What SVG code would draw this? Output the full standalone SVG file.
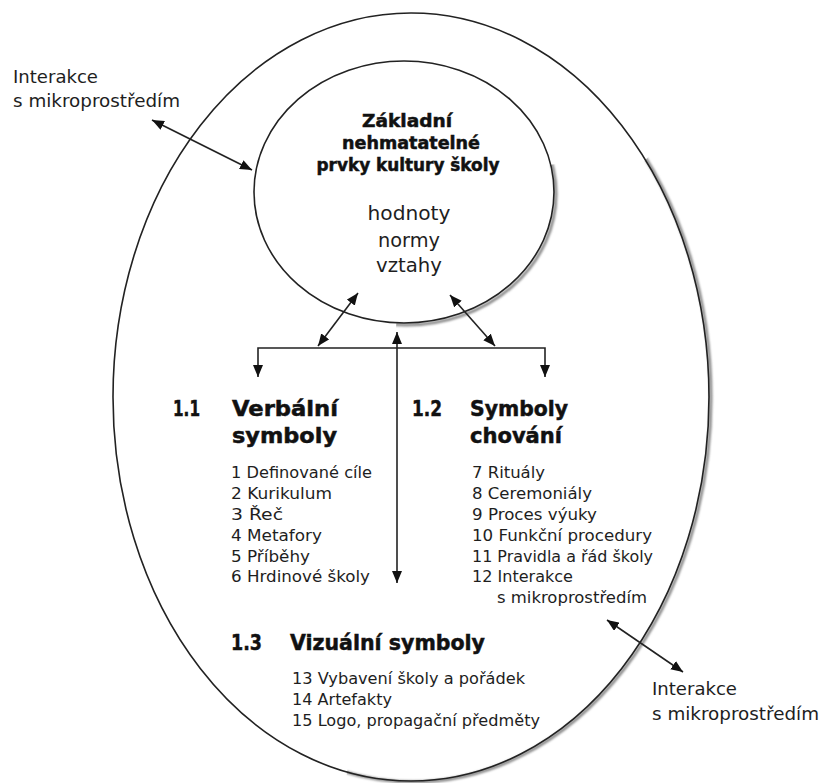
<svg xmlns="http://www.w3.org/2000/svg" width="822" height="783" viewBox="0 0 822 783">
<style>
  .reg { font-family: "DejaVu Sans", "Liberation Sans", sans-serif; fill: #1e1e1e; }
  .side { font-size: 18px; }
  .item { font-size: 15.5px; }
  .val { font-size: 19px; }
  .title { font-family: "DejaVu Sans", "Liberation Sans", sans-serif; font-weight: bold; font-size: 17px; fill: #111; stroke: #111; stroke-width: 0.5; }
  .head { font-family: "DejaVu Sans", "Liberation Sans", sans-serif; font-weight: bold; font-size: 21px; fill: #111; stroke: #111; stroke-width: 0.5; }
  .ell { fill: none; stroke: #222; stroke-width: 1.6; }
  .shadow { fill: none; stroke: #8a8a8a; stroke-width: 3; }
  .conn { fill: none; stroke: #222; stroke-width: 1.6; }
</style>
<defs>
  <marker id="ah" viewBox="0 0 12 10" markerWidth="12" markerHeight="10" refX="12" refY="5" orient="auto-start-reverse" markerUnits="userSpaceOnUse">
    <path d="M0,0 L12,5 L0,10 z" fill="#111"/>
  </marker>
  <filter id="blur" x="-10%" y="-10%" width="120%" height="120%">
    <feGaussianBlur stdDeviation="1"/>
  </filter>
  <clipPath id="clipOuter">
    <polygon points="411,397 1100,-300 1300,397 1300,1400 240,1400"/>
  </clipPath>
  <clipPath id="clipInner">
    <polygon points="404,192 900,100 900,600 380,600"/>
  </clipPath>
</defs>
<rect width="822" height="783" fill="#ffffff"/>

<g id="outer-ellipse">
  <ellipse class="shadow" cx="413" cy="398" rx="298" ry="384" clip-path="url(#clipOuter)" filter="url(#blur)"/>
  <ellipse class="ell" cx="411" cy="397" rx="298" ry="384"/>
</g>

<g id="core-node">
  <ellipse class="shadow" cx="406" cy="194" rx="150" ry="131" clip-path="url(#clipInner)" filter="url(#blur)"/>
  <ellipse class="ell" cx="404" cy="192" rx="150" ry="131" fill="#fff"/>
  <text class="title" x="407" y="127" text-anchor="middle" textLength="90" lengthAdjust="spacingAndGlyphs">Základní</text>
  <text class="title" x="411" y="149" text-anchor="middle" textLength="138" lengthAdjust="spacingAndGlyphs">nehmatatelné</text>
  <text class="title" x="408" y="171" text-anchor="middle" textLength="183" lengthAdjust="spacingAndGlyphs">prvky kultury školy</text>
  <text class="reg val" x="409" y="220" text-anchor="middle" textLength="83" lengthAdjust="spacingAndGlyphs">hodnoty</text>
  <text class="reg val" x="409" y="247" text-anchor="middle" textLength="62" lengthAdjust="spacingAndGlyphs">normy</text>
  <text class="reg val" x="409" y="272" text-anchor="middle" textLength="66" lengthAdjust="spacingAndGlyphs">vztahy</text>
</g>

<g id="verbal-symbols">
  <text class="head" x="173" y="416" textLength="27" lengthAdjust="spacingAndGlyphs">1.1</text>
  <text class="head" x="232" y="416" textLength="106" lengthAdjust="spacingAndGlyphs">Verbální</text>
  <text class="head" x="232" y="443" textLength="105" lengthAdjust="spacingAndGlyphs">symboly</text>
  <text class="reg item" x="231" y="478" textLength="141" lengthAdjust="spacingAndGlyphs">1 Definované cíle</text>
  <text class="reg item" x="231" y="499" textLength="101" lengthAdjust="spacingAndGlyphs">2 Kurikulum</text>
  <text class="reg item" x="231" y="520" textLength="52" lengthAdjust="spacingAndGlyphs">3 Řeč</text>
  <text class="reg item" x="231" y="541" textLength="91" lengthAdjust="spacingAndGlyphs">4 Metafory</text>
  <text class="reg item" x="231" y="562" textLength="79" lengthAdjust="spacingAndGlyphs">5 Příběhy</text>
  <text class="reg item" x="231" y="582" textLength="139" lengthAdjust="spacingAndGlyphs">6 Hrdinové školy</text>
</g>

<g id="behaviour-symbols">
  <text class="head" x="412" y="416" textLength="30" lengthAdjust="spacingAndGlyphs">1.2</text>
  <text class="head" x="470" y="416" textLength="98" lengthAdjust="spacingAndGlyphs">Symboly</text>
  <text class="head" x="470" y="443" textLength="92" lengthAdjust="spacingAndGlyphs">chování</text>
  <text class="reg item" x="472" y="478" textLength="73" lengthAdjust="spacingAndGlyphs">7 Rituály</text>
  <text class="reg item" x="472" y="499" textLength="120" lengthAdjust="spacingAndGlyphs">8 Ceremoniály</text>
  <text class="reg item" x="472" y="520" textLength="125" lengthAdjust="spacingAndGlyphs">9 Proces výuky</text>
  <text class="reg item" x="472" y="541" textLength="180" lengthAdjust="spacingAndGlyphs">10 Funkční procedury</text>
  <text class="reg item" x="472" y="562" textLength="181" lengthAdjust="spacingAndGlyphs">11 Pravidla a řád školy</text>
  <text class="reg item" x="472" y="582" textLength="101" lengthAdjust="spacingAndGlyphs">12 Interakce</text>
  <text class="reg item" x="497" y="603" textLength="150" lengthAdjust="spacingAndGlyphs">s mikroprostředím</text>
</g>

<g id="visual-symbols">
  <text class="head" x="231" y="650" textLength="31" lengthAdjust="spacingAndGlyphs">1.3</text>
  <text class="head" x="290" y="650" textLength="195" lengthAdjust="spacingAndGlyphs">Vizuální symboly</text>
  <text class="reg item" x="292" y="684" textLength="233" lengthAdjust="spacingAndGlyphs">13 Vybavení školy a pořádek</text>
  <text class="reg item" x="292" y="705" textLength="100" lengthAdjust="spacingAndGlyphs">14 Artefakty</text>
  <text class="reg item" x="292" y="726" textLength="248" lengthAdjust="spacingAndGlyphs">15 Logo, propagační předměty</text>
</g>

<g id="env-top-left">
  <text class="reg side" x="13" y="83" textLength="85" lengthAdjust="spacingAndGlyphs">Interakce</text>
  <text class="reg side" x="13" y="107" textLength="167" lengthAdjust="spacingAndGlyphs">s mikroprostředím</text>
</g>

<g id="env-bottom-right">
  <text class="reg side" x="652" y="695" textLength="85" lengthAdjust="spacingAndGlyphs">Interakce</text>
  <text class="reg side" x="652" y="720" textLength="167" lengthAdjust="spacingAndGlyphs">s mikroprostředím</text>
</g>

<g id="connectors">
  <line class="conn" x1="152" y1="120" x2="252" y2="170" marker-start="url(#ah)" marker-end="url(#ah)"/>
  <line class="conn" x1="607" y1="620" x2="683" y2="672" marker-start="url(#ah)" marker-end="url(#ah)"/>
  <line class="conn" x1="358" y1="293" x2="318" y2="346" marker-start="url(#ah)" marker-end="url(#ah)"/>
  <line class="conn" x1="450" y1="295" x2="495" y2="346" marker-start="url(#ah)" marker-end="url(#ah)"/>
  <path class="conn" d="M258,377 L258,348 L545,348 L545,377" marker-start="url(#ah)" marker-end="url(#ah)"/>
  <line class="conn" x1="397" y1="332" x2="397" y2="583" marker-start="url(#ah)" marker-end="url(#ah)"/>
</g>
</svg>
